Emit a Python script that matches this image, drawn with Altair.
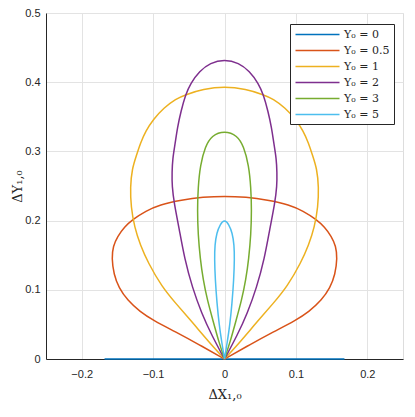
import altair as alt
import pandas as pd

labels = ["Y₀ = 0", "Y₀ = 0.5", "Y₀ = 1", "Y₀ = 2", "Y₀ = 3", "Y₀ = 5"]
colors = ["#0072BD", "#D95319", "#EDB120", "#7E2F8E", "#77AC30", "#4DBEEE"]

# Y0 = 0 (flat segment on the axis)
x_y0_0 = [-0.168, 0.168]
y_y0_0 = [0.0, 0.0]

# Y0 = 0.5
x_y0_05 = [0.0, 0.036, 0.068, 0.100, 0.118, 0.136, 0.148, 0.155, 0.158, 0.156, 0.150, 0.140, 0.129,
           0.110, 0.091, 0.060, 0.030, 0.0,
           -0.030, -0.060, -0.091, -0.110, -0.129, -0.140, -0.150, -0.156, -0.158, -0.155, -0.148,
           -0.136, -0.118, -0.100, -0.068, -0.036, 0.0]
y_y0_05 = [0.0, 0.021, 0.039, 0.056, 0.068, 0.085, 0.103, 0.122, 0.146, 0.163, 0.177, 0.191, 0.2015,
           0.214, 0.223, 0.230, 0.234, 0.2355,
           0.234, 0.230, 0.223, 0.214, 0.2015, 0.191, 0.177, 0.163, 0.146, 0.122, 0.103,
           0.085, 0.068, 0.056, 0.039, 0.021, 0.0]

# Y0 = 1
x_y0_1 = [0.0, 0.023, 0.045, 0.068, 0.088, 0.107, 0.118, 0.126, 0.131, 0.132, 0.1295, 0.123, 0.118,
          0.110, 0.100, 0.085, 0.068, 0.0545, 0.030, 0.0,
          -0.030, -0.0545, -0.068, -0.085, -0.100, -0.110, -0.118, -0.123, -0.1295, -0.132, -0.131,
          -0.126, -0.118, -0.107, -0.088, -0.068, -0.045, -0.023, 0.0]
y_y0_1 = [0.0, 0.026, 0.053, 0.080, 0.105, 0.139, 0.165, 0.190, 0.220, 0.248, 0.275, 0.295, 0.3115,
          0.330, 0.346, 0.363, 0.376, 0.382, 0.390, 0.394,
          0.390, 0.382, 0.376, 0.363, 0.346, 0.330, 0.3115, 0.295, 0.275, 0.248, 0.220,
          0.190, 0.165, 0.139, 0.105, 0.080, 0.053, 0.026, 0.0]

# Y0 = 2
x_y0_2 = [0.0, 0.018, 0.032, 0.045, 0.056, 0.0636, 0.0705, 0.0735, 0.0735, 0.0727, 0.069, 0.066,
          0.061, 0.0545, 0.0477, 0.035, 0.020, 0.0,
          -0.020, -0.035, -0.0477, -0.0545, -0.061, -0.066, -0.069, -0.0727, -0.0735, -0.0735,
          -0.0705, -0.0636, -0.056, -0.045, -0.032, -0.018, 0.0]
y_y0_2 = [0.0, 0.0345, 0.066, 0.103, 0.145, 0.189, 0.225, 0.250, 0.270, 0.289, 0.312, 0.334,
          0.358, 0.382, 0.398, 0.416, 0.428, 0.433,
          0.428, 0.416, 0.398, 0.382, 0.358, 0.334, 0.312, 0.289, 0.270, 0.250,
          0.225, 0.189, 0.145, 0.103, 0.066, 0.0345, 0.0]

# Y0 = 3
x_y0_3 = [0.0, 0.008, 0.016, 0.024, 0.030, 0.034, 0.037, 0.038, 0.037, 0.034, 0.027, 0.018, 0.0,
          -0.018, -0.027, -0.034, -0.037, -0.038, -0.037, -0.034, -0.030, -0.024, -0.016, -0.008, 0.0]
y_y0_3 = [0.0, 0.025, 0.055, 0.085, 0.115, 0.145, 0.180, 0.215, 0.248, 0.280, 0.307, 0.323, 0.330,
          0.323, 0.307, 0.280, 0.248, 0.215, 0.180, 0.145, 0.115, 0.085, 0.055, 0.025, 0.0]

# Y0 = 5
x_y0_5 = [0.0, 0.004, 0.0075, 0.0105, 0.013, 0.014, 0.0135, 0.011, 0.006, 0.0,
          -0.006, -0.011, -0.0135, -0.014, -0.013, -0.0105, -0.0075, -0.004, 0.0]
y_y0_5 = [0.0, 0.025, 0.050, 0.080, 0.115, 0.145, 0.165, 0.182, 0.195, 0.2016,
          0.195, 0.182, 0.165, 0.145, 0.115, 0.080, 0.050, 0.025, 0.0]

series = [(x_y0_0, y_y0_0), (x_y0_05, y_y0_05), (x_y0_1, y_y0_1),
          (x_y0_2, y_y0_2), (x_y0_3, y_y0_3), (x_y0_5, y_y0_5)]

rows = []
for lab, (xs, ys) in zip(labels, series):
    for i, (xv, yv) in enumerate(zip(xs, ys)):
        rows.append({"s": lab, "x": xv, "y": yv, "i": i})
df = pd.DataFrame(rows)

axis_common = dict(
    labelFont="Liberation Sans", labelFontSize=11, labelColor="#262626",
    titleFont="DejaVu Serif", titleFontSize=13, titleColor="#262626", titleFontWeight="normal",
    domainColor="#262626", gridColor="#e3e3e3", ticks=False,
)

chart = alt.Chart(df).mark_line(strokeWidth=1.5, interpolate="basis").encode(
    x=alt.X("x:Q", scale=alt.Scale(domain=[-0.25, 0.25], nice=False),
            axis=alt.Axis(title="ΔX₁,₀", values=[-0.2, -0.1, 0, 0.1, 0.2], format="~g",
                          labelPadding=9, titlePadding=9, **axis_common)),
    y=alt.Y("y:Q", scale=alt.Scale(domain=[0, 0.5], nice=False),
            axis=alt.Axis(title="ΔY₁,₀", values=[0, 0.1, 0.2, 0.3, 0.4, 0.5], format="~g",
                          labelPadding=6, titlePadding=0, **axis_common)),
    color=alt.Color("s:N", scale=alt.Scale(domain=labels, range=colors),
                    legend=alt.Legend(orient="none", legendX=244, legendY=11, title=None,
                                      symbolType="M-4,0H4", symbolSize=121, symbolStrokeWidth=1.5,
                                      symbolOffset=17,
                                      labelFont="DejaVu Serif", labelFontSize=11,
                                      labelColor="#262626", strokeColor="#262626",
                                      fillColor="white", padding=4, labelOffset=20,
                                      rowPadding=4, cornerRadius=0)),
    order=alt.Order("i:Q"),
    detail="s:N",
).properties(
    width=357, height=346,
    autosize=alt.AutoSizeParams(type="none"),
    padding={"left": 38, "top": 5, "right": 2, "bottom": 46},
).configure_view(stroke="#262626", strokeWidth=1).configure(background="white")

chart.save("out.html", embed_options={"renderer": "svg", "actions": False})
